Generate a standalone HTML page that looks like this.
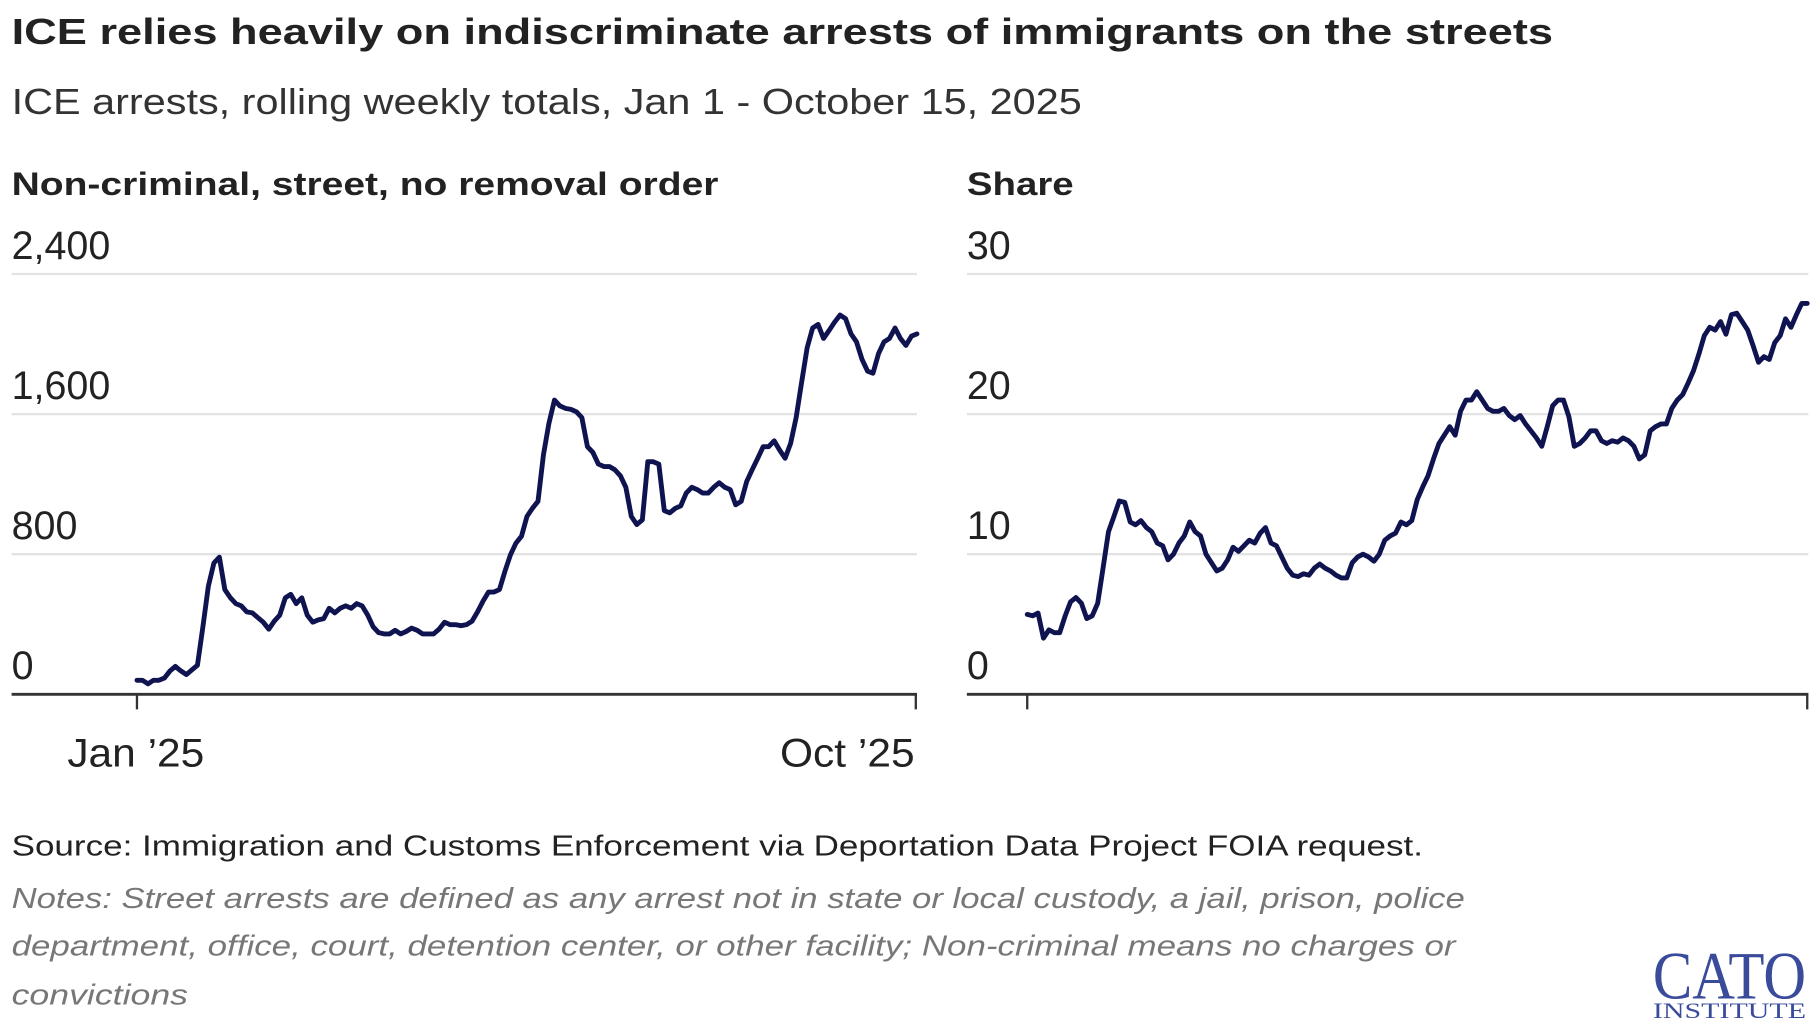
<!DOCTYPE html>
<html><head><meta charset="utf-8">
<style>
html,body{margin:0;padding:0;background:#fff;}
svg{display:block;font-family:"Liberation Sans",sans-serif;}
</style></head>
<body>
<svg id="chart" width="1820" height="1031" viewBox="0 0 1568 888" preserveAspectRatio="none">
<text x="10" y="38" font-size="31" font-weight="bold" fill="#222" textLength="1328" lengthAdjust="spacingAndGlyphs">ICE relies heavily on indiscriminate arrests of immigrants on the streets</text>
<text x="10" y="98" font-size="31" fill="#333" textLength="922" lengthAdjust="spacingAndGlyphs">ICE arrests, rolling weekly totals, Jan 1 - October 15, 2025</text>
<text x="10" y="168" font-size="28" font-weight="bold" fill="#222" textLength="609" lengthAdjust="spacingAndGlyphs">Non-criminal, street, no removal order</text>
<text x="833" y="168" font-size="28" font-weight="bold" fill="#222" textLength="92" lengthAdjust="spacingAndGlyphs">Share</text>
<g id="left"></g>
<g id="right"></g>
<text x="58" y="660" font-size="34" fill="#222" textLength="118" lengthAdjust="spacingAndGlyphs">Jan ’25</text>
<text x="672" y="660" font-size="34" fill="#222" textLength="116" lengthAdjust="spacingAndGlyphs">Oct ’25</text>
<text x="10" y="737" font-size="25" fill="#222" textLength="1216" lengthAdjust="spacingAndGlyphs">Source: Immigration and Customs Enforcement via Deportation Data Project FOIA request.</text>
<text x="10" y="782" font-size="25" font-style="italic" fill="#777" textLength="1252" lengthAdjust="spacingAndGlyphs">Notes: Street arrests are defined as any arrest not in state or local custody, a jail, prison, police</text>
<text x="10" y="823" font-size="25" font-style="italic" fill="#777" textLength="1244" lengthAdjust="spacingAndGlyphs">department, office, court, detention center, or other facility; Non-criminal means no charges or</text>
<text x="10" y="865" font-size="25" font-style="italic" fill="#777" textLength="152" lengthAdjust="spacingAndGlyphs">convictions</text>
<g>
<text x="1490" y="860" font-family="Liberation Serif,serif" font-size="58" fill="#3b4b9c" text-anchor="middle" textLength="132" lengthAdjust="spacingAndGlyphs">CATO</text>
<text x="1490" y="877" font-family="Liberation Serif,serif" font-size="19" fill="#3b4b9c" text-anchor="middle" textLength="132" lengthAdjust="spacingAndGlyphs">INSTITUTE</text>
</g>
</svg>
<script>
const leftTicks = [0, 800, 1600, 2400];
const leftTickLabels = ["0", "800", "1,600", "2,400"];
const rightTicks = [0, 10, 20, 30];
const rightTickLabels = ["0", "10", "20", "30"];
const streetArrests = [80,80,60,80,80,93,133,159,133,113,139,166,385,617,750,783,598,551,518,505,471,465,438,412,372,418,452,551,571,518,551,452,412,425,432,491,465,491,505,491,518,505,452,385,352,345,345,365,345,359,378,365,345,345,345,372,412,398,398,392,398,418,471,531,584,584,598,704,797,863,903,1016,1062,1102,1368,1547,1680,1647,1633,1627,1613,1580,1414,1381,1315,1301,1301,1282,1248,1182,1016,969,996,1328,1328,1315,1049,1036,1062,1076,1149,1182,1169,1149,1149,1182,1208,1182,1169,1082,1102,1215,1282,1348,1414,1414,1447,1394,1348,1434,1580,1780,1979,2092,2112,2032,2078,2125,2165,2145,2058,2012,1912,1846,1833,1946,2012,2032,2092,2032,1992,2045,2058];
const sharePct = [5.7,5.6,5.8,4.0,4.6,4.4,4.4,5.6,6.6,6.9,6.5,5.4,5.6,6.5,9.0,11.6,12.7,13.8,13.7,12.3,12.1,12.4,11.9,11.6,10.8,10.6,9.6,10.0,10.8,11.3,12.3,11.6,11.3,10.0,9.4,8.8,9.0,9.6,10.5,10.2,10.6,11.0,10.8,11.5,11.9,10.8,10.6,9.8,9.0,8.5,8.4,8.6,8.5,9.0,9.3,9.0,8.8,8.5,8.3,8.3,9.4,9.8,10.0,9.8,9.5,10.0,11.0,11.3,11.5,12.3,12.1,12.4,13.9,14.8,15.6,16.8,17.9,18.5,19.1,18.5,20.2,21.0,21.0,21.6,21.0,20.4,20.2,20.2,20.4,19.9,19.6,19.9,19.3,18.8,18.3,17.7,19.1,20.6,21.0,21.0,19.8,17.7,17.9,18.3,18.8,18.8,18.1,17.9,18.1,18.0,18.3,18.1,17.7,16.8,17.1,18.8,19.1,19.3,19.3,20.4,21.0,21.4,22.2,23.1,24.3,25.6,26.2,26.0,26.6,25.7,27.1,27.2,26.6,26.0,24.9,23.7,24.1,23.9,25.1,25.6,26.8,26.2,27.1,27.9,27.9];

const NS = "http://www.w3.org/2000/svg";
function mk(tag, attrs, parent) {
  const e = document.createElementNS(NS, tag);
  for (const k in attrs) e.setAttribute(k, attrs[k]);
  parent.appendChild(e);
  return e;
}
function panel(g, opt) {
  const y = v => 598 - (v / opt.max) * 362;
  const x = i => opt.x0 + (i / (opt.values.length - 1)) * (opt.x1 - opt.x0);
  opt.ticks.forEach((t, i) => {
    if (t > 0) {
      const gl = mk("line", {x1: opt.left, x2: opt.right, y1: y(t), y2: y(t), stroke: "#e3e3e3", "stroke-width": 2}, g);
      
      
    }
    const tl = mk("text", {x: opt.left, y: y(t) - 13, "font-size": 34, fill: "#222"}, g);
    tl.textContent = opt.labels[i];
    
    
  });
  const ax = mk("line", {x1: opt.left, x2: opt.right, y1: 598, y2: 598, stroke: "#333", "stroke-width": 2.5}, g);
  
  
  [opt.x0, opt.right - 1].forEach(tx => {
    const tk = mk("line", {x1: tx, x2: tx, y1: 598, y2: 611, stroke: "#333", "stroke-width": 2}, g);
    
    
  });
  const d = opt.values.map((v, i) => (i ? "L" : "M") + x(i).toFixed(1) + "," + y(v).toFixed(1)).join("");
  const p = mk("path", {d: d, fill: "none", stroke: "#0f1450", "stroke-width": 4.2, "stroke-linejoin": "round", "stroke-linecap": "round"}, g);
  
  
}
panel(document.getElementById("left"), {values: streetArrests, max: 2400, ticks: leftTicks, labels: leftTickLabels, left: 10, right: 790, x0: 118, x1: 790, name: "street-arrests-line"});
panel(document.getElementById("right"), {values: sharePct, max: 30, ticks: rightTicks, labels: rightTickLabels, left: 833, right: 1558, x0: 885, x1: 1557, name: "share-line"});
</script>
</body></html>
